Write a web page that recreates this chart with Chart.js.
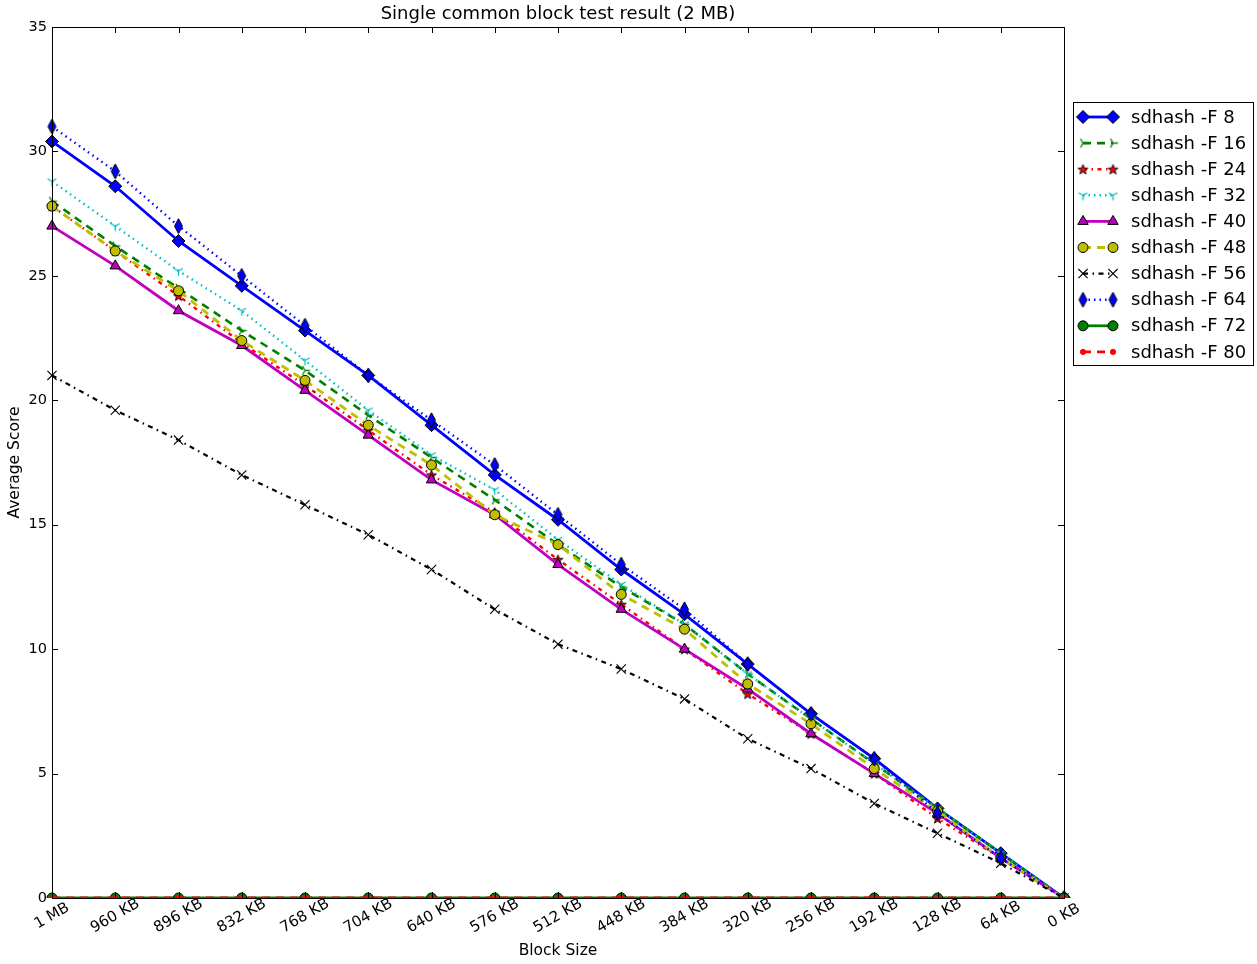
<!DOCTYPE html>
<html>
<head>
<meta charset="utf-8">
<script src="https://cdn.jsdelivr.net/npm/chart.js@4.4.1/dist/chart.umd.min.js"></script>
<style>
  html, body { margin: 0; padding: 0; background: #fff; }
  canvas { display: block; }
</style>
</head>
<body>
<canvas id="chart" width="1257" height="964"></canvas>
<script>
const LABELS = ['1 MB', '960 KB', '896 KB', '832 KB', '768 KB', '704 KB', '640 KB', '576 KB',
  '512 KB', '448 KB', '384 KB', '320 KB', '256 KB', '192 KB', '128 KB', '64 KB', '0 KB'];

const F8  = [30.4, 28.6, 26.4, 24.6, 22.8, 21.0, 19.0, 17.0, 15.2, 13.2, 11.4, 9.4, 7.4, 5.6, 3.6, 1.8, 0];
const F16 = [28.0, 26.2, 24.5, 22.8, 21.2, 19.4, 17.7, 16.0, 14.2, 12.5, 11.0, 9.0, 7.2, 5.4, 3.6, 1.8, 0];
const F24 = [27.8, 26.0, 24.2, 22.3, 20.6, 18.8, 17.0, 15.5, 13.6, 11.8, 10.0, 8.2, 6.6, 5.0, 3.2, 1.6, 0];
const F32 = [28.8, 27.0, 25.2, 23.6, 21.6, 19.6, 17.8, 16.4, 14.4, 12.6, 11.0, 9.0, 7.2, 5.4, 3.6, 1.8, 0];
const F40 = [27.0, 25.4, 23.6, 22.2, 20.4, 18.6, 16.8, 15.4, 13.4, 11.6, 10.0, 8.4, 6.6, 5.0, 3.4, 1.6, 0];
const F48 = [27.8, 26.0, 24.4, 22.4, 20.8, 19.0, 17.4, 15.4, 14.2, 12.2, 10.8, 8.6, 7.0, 5.2, 3.5, 1.6, 0];
const F56 = [21.0, 19.6, 18.4, 17.0, 15.8, 14.6, 13.2, 11.6, 10.2, 9.2, 8.0, 6.4, 5.2, 3.8, 2.6, 1.4, 0];
const F64 = [31.0, 29.2, 27.0, 25.0, 23.0, 21.0, 19.2, 17.4, 15.4, 13.4, 11.6, 9.4, 7.4, 5.6, 3.4, 1.6, 0];
const F72 = [0, 0, 0, 0, 0, 0, 0, 0, 0, 0, 0, 0, 0, 0, 0, 0, 0];
const F80 = [0, 0, 0, 0, 0, 0, 0, 0, 0, 0, 0, 0, 0, 0, 0, 0, 0];

const SERIES_NAMES = ['sdhash -F 8', 'sdhash -F 16', 'sdhash -F 24', 'sdhash -F 32', 'sdhash -F 40',
  'sdhash -F 48', 'sdhash -F 56', 'sdhash -F 64', 'sdhash -F 72', 'sdhash -F 80'];
const SERIES_DATA = [F8, F16, F24, F32, F40, F48, F56, F64, F72, F80];

const FONT = '"DejaVu Sans", "Liberation Sans", sans-serif';

// small canvases for the matplotlib markers Chart.js doesn't have
function markerCanvas(w, h, draw) {
  const c = document.createElement('canvas');
  c.width = w; c.height = h;
  draw(c.getContext('2d'), w, h);
  return c;
}

const thinDiamond = markerCanvas(11, 17, (g) => {
  g.beginPath();
  g.moveTo(5.5, 1); g.lineTo(9.5, 8.5); g.lineTo(5.5, 16); g.lineTo(1.5, 8.5); g.closePath();
  g.fillStyle = '#0000ff'; g.fill();
  g.strokeStyle = '#000'; g.lineWidth = 1; g.stroke();
});

const redStar = markerCanvas(13, 13, (g) => {
  g.beginPath();
  for (let i = 0; i < 10; i++) {
    const r = i % 2 === 0 ? 5.2 : 2.2;
    const a = -Math.PI / 2 + i * Math.PI / 5;
    const px = 6.5 + r * Math.cos(a), py = 7 + r * Math.sin(a);
    i === 0 ? g.moveTo(px, py) : g.lineTo(px, py);
  }
  g.closePath();
  g.fillStyle = '#ff0000'; g.fill();
  g.strokeStyle = '#000'; g.lineWidth = 0.9; g.stroke();
});

function triMarker(color, angles) {
  return markerCanvas(13, 13, (g) => {
    g.strokeStyle = color; g.lineWidth = 1.3;
    g.beginPath();
    angles.forEach((deg) => {
      const a = deg * Math.PI / 180;
      g.moveTo(6.5, 6.5);
      g.lineTo(6.5 + 5 * Math.cos(a), 6.5 + 5 * Math.sin(a));
    });
    g.stroke();
  });
}
const triRight = triMarker('#008000', [0, 120, 240]);
const triDown = triMarker('#00bfbf', [90, 210, 330]);

const STYLES = [
  { color: '#0000ff', dash: [], width: 2.8, point: 'rectRot', radius: 6.5, pfill: '#0000ff', pborder: '#000', pbw: 1 },
  { color: '#008000', dash: [8, 6], width: 2.6, point: triRight, radius: 6, pfill: '#008000', pborder: '#008000', pbw: 1 },
  { color: '#ff0000', dash: [4, 4.5, 1.5, 4.5], width: 2.4, point: redStar, radius: 6, pfill: '#ff0000', pborder: '#000', pbw: 1 },
  { color: '#00bfbf', dash: [1.5, 4], width: 2.4, point: triDown, radius: 6, pfill: '#00bfbf', pborder: '#00bfbf', pbw: 1 },
  { color: '#bf00bf', dash: [], width: 2.8, point: 'triangle', radius: 6, pfill: '#bf00bf', pborder: '#000', pbw: 1 },
  { color: '#bfbf00', dash: [8, 6], width: 2.8, point: 'circle', radius: 5, pfill: '#bfbf00', pborder: '#000', pbw: 1 },
  { color: '#000000', dash: [5, 4.5, 1.5, 4.5], width: 2.2, point: 'crossRot', radius: 6.5, pfill: '#000', pborder: '#000', pbw: 1.1 },
  { color: '#0000ff', dash: [1.5, 4], width: 2.4, point: thinDiamond, radius: 8, pfill: '#0000ff', pborder: '#000', pbw: 1 },
  { color: '#008000', dash: [], width: 2.8, point: 'circle', radius: 5, pfill: '#008000', pborder: '#000', pbw: 1 },
  { color: '#ff0000', dash: [8, 6], width: 2.8, point: 'circle', radius: 2.6, pfill: '#ff0000', pborder: '#ff0000', pbw: 1 }
];

const N = SERIES_DATA.length;
const datasets = SERIES_DATA.map((data, i) => {
  const s = STYLES[i];
  return {
    label: SERIES_NAMES[i],
    data: data,
    order: N - i,                 // later series drawn on top, like matplotlib
    borderColor: s.color,
    borderWidth: s.width,
    borderDash: s.dash,
    borderCapStyle: 'butt',
    tension: 0,
    fill: false,
    pointStyle: s.point,
    pointRadius: s.radius,
    pointBackgroundColor: s.pfill,
    pointBorderColor: s.pborder,
    pointBorderWidth: s.pbw
  };
});

// frame, inward ticks, rotated x labels, title, axis titles and the legend box
const decorations = {
  id: 'decorations',
  afterDraw(chart) {
    const { ctx, chartArea: a, scales } = chart;
    ctx.save();
    ctx.strokeStyle = '#000';
    ctx.lineWidth = 1;
    ctx.setLineDash([]);
    ctx.strokeRect(Math.round(a.left) + 0.5, Math.round(a.top) + 0.5,
      Math.round(a.right - a.left), Math.round(a.bottom - a.top));

    ctx.beginPath();
    scales.y.ticks.forEach((t) => {
      const y = Math.round(scales.y.getPixelForValue(t.value)) + 0.5;
      ctx.moveTo(a.left, y); ctx.lineTo(a.left + 6, y);
      ctx.moveTo(a.right, y); ctx.lineTo(a.right - 6, y);
    });
    LABELS.forEach((_, i) => {
      const x = Math.round(scales.x.getPixelForValue(i)) + 0.5;
      ctx.moveTo(x, a.bottom); ctx.lineTo(x, a.bottom - 6);
      ctx.moveTo(x, a.top); ctx.lineTo(x, a.top + 6);
    });
    ctx.stroke();

    // x tick labels, rotated 30 degrees and centred under the tick
    ctx.fillStyle = '#000';
    ctx.font = '15px ' + FONT;
    ctx.textAlign = 'center';
    ctx.textBaseline = 'middle';
    LABELS.forEach((lab, i) => {
      const x = scales.x.getPixelForValue(i);
      ctx.save();
      ctx.translate(x, a.bottom + 18);
      ctx.rotate(-Math.PI / 6);
      ctx.fillText(lab, 0, 0);
      ctx.restore();
    });

    const cx = (a.left + a.right) / 2;
    ctx.font = '18px ' + FONT;
    ctx.fillText('Single common block test result (2 MB)', cx, 14);
    ctx.font = '15.5px ' + FONT;
    ctx.fillText('Block Size', cx, 951);
    ctx.save();
    ctx.translate(15, (a.top + a.bottom) / 2);
    ctx.rotate(-Math.PI / 2);
    ctx.fillText('Average Score', 0, 0);
    ctx.restore();

    // legend
    const lx = 1073.5, ly = 102.5, lw = 180, lh = 263;
    ctx.fillStyle = '#fff';
    ctx.fillRect(lx, ly, lw, lh);
    ctx.strokeStyle = '#000';
    ctx.lineWidth = 1;
    ctx.strokeRect(lx, ly, lw, lh);
    const drawPoint = Chart.helpers && Chart.helpers.drawPoint;
    SERIES_NAMES.forEach((name, i) => {
      const s = STYLES[i];
      const y = 117 + i * 26.1;
      ctx.save();
      ctx.strokeStyle = s.color;
      ctx.lineWidth = s.width;
      ctx.lineCap = 'butt';
      ctx.setLineDash(s.dash);
      ctx.beginPath();
      ctx.moveTo(1083, y); ctx.lineTo(1113, y);
      ctx.stroke();
      ctx.setLineDash([]);
      if (drawPoint) {
        ctx.fillStyle = s.pfill;
        ctx.strokeStyle = s.pborder;
        ctx.lineWidth = s.pbw;
        [1083, 1113].forEach((px) => {
          drawPoint(ctx, { pointStyle: s.point, radius: s.radius, borderWidth: s.pbw, rotation: 0 }, px, y);
        });
      }
      ctx.restore();
      ctx.fillStyle = '#000';
      ctx.textAlign = 'left';
      ctx.textBaseline = 'middle';
      ctx.font = '18px ' + FONT;
      ctx.fillText(name, 1131, y + 1);
    });
    ctx.restore();
  }
};

new Chart(document.getElementById('chart'), {
  type: 'line',
  data: { labels: LABELS, datasets },
  options: {
    responsive: false,
    animation: false,
    events: [],
    devicePixelRatio: 1,
    layout: { padding: { left: 0, top: 27, right: 193, bottom: 0 } },
    plugins: {
      legend: { display: false },
      title: { display: false },
      tooltip: { enabled: false }
    },
    scales: {
      x: {
        type: 'category',
        offset: false,
        grid: { display: false, drawTicks: false },
        border: { display: false },
        ticks: { display: false, autoSkip: false },
        afterFit(s) { s.height = 66; }
      },
      y: {
        min: 0,
        max: 35,
        grid: { display: false, drawTicks: false },
        border: { display: false },
        ticks: {
          stepSize: 5,
          color: '#000',
          font: { family: FONT, size: 14.5 },
          padding: 5
        },
        afterFit(s) { s.width = 52; }
      }
    }
  },
  plugins: [decorations]
});
</script>
</body>
</html>
